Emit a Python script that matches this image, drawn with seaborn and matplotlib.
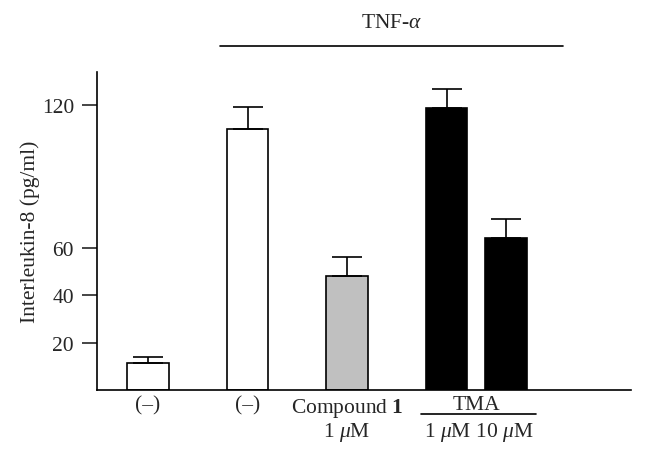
import matplotlib
matplotlib.use("Agg")
import matplotlib.pyplot as plt
import seaborn as sns
import pandas as pd
import numpy as np

# ---- data ----
groups = ["ctrl", "TNF", "Compound 1", "TMA 1", "TMA 10"]
il8_mean = [11.4, 109.9, 48.0, 118.7, 64.0]
il8_err = [2.5, 9.3, 8.0, 8.0, 8.0]
tick_labels = ["(\u2013)", "(\u2013)", "Compound $\\mathbf{1}$\n1 $\\mu$M", "", ""]
tma_label = "TMA"
tma_doses = "1 $\\mu$M 10 $\\mu$M"
yticks = [20, 40, 60, 120]

# ---- layout / style ----
positions = [0.0, 1.0, 2.0, 3.0, 3.6]
colors = ["white", "white", "#c0c0c0", "black", "black"]
FS = 15.5

sns.set_theme(style="white")
plt.rcParams["font.family"] = ["Liberation Serif", "DejaVu Serif"]
plt.rcParams["mathtext.fontset"] = "custom"
plt.rcParams["mathtext.rm"] = "Liberation Serif"
plt.rcParams["mathtext.it"] = "Liberation Serif:italic"
plt.rcParams["mathtext.bf"] = "Liberation Serif:bold"

fig = plt.figure(figsize=(6.45, 4.56), dpi=100)
ax = fig.add_axes([97 / 645, 1 - 391 / 456, (631 - 97) / 645, (391 - 73) / 456])

df = pd.DataFrame({"pos": positions, "val": il8_mean, "grp": groups})
sns.barplot(data=df, x="pos", y="val", hue="grp", palette=dict(zip(groups, colors)),
            native_scale=True, width=0.70, edgecolor="black", linewidth=1.2,
            legend=False, ax=ax, dodge=False)

ax.errorbar(positions, il8_mean, yerr=[np.zeros(len(il8_err)), il8_err], fmt="none",
            ecolor="black", elinewidth=1.2, capsize=10.8, capthick=1.2, zorder=5)

ax.set_xlim(-0.513, 4.854)
ax.set_ylim(0, 134)
ax.set_yticks(yticks)
ax.set_yticklabels([str(t) for t in yticks], fontsize=FS)
ax.set_xticks(positions)
ax.set_xticklabels(tick_labels, fontsize=FS, linespacing=1.1, va="top")
ax.tick_params(axis="x", length=0, pad=4)
ax.tick_params(axis="y", length=10.5, width=1.2, direction="out", left=True, pad=6)
ax.set_xlabel("")
ax.set_ylabel("Interleukin-8 (pg/ml)", fontsize=FS, labelpad=1)
for s in ["top", "right"]:
    ax.spines[s].set_visible(False)
for s in ["left", "bottom"]:
    ax.spines[s].set_linewidth(1.2)
    ax.spines[s].set_color("black")

# TNF-alpha bracket
ax.plot([0.230, 0.873], [1.082, 1.082], transform=ax.transAxes, color="black",
        lw=1.2, clip_on=False)
ax.text(0.552, 1.155, "TNF-$\\alpha$", transform=ax.transAxes, ha="center", va="center",
        fontsize=FS)

# TMA label with underline and doses
tma_x = (positions[3] + positions[4]) / 2
xt = ax.get_xaxis_transform()
ax.text(tma_x, -0.045, tma_label, transform=xt, ha="center", va="center", fontsize=FS)
ax.plot([positions[3] - 0.26, positions[4] + 0.30], [-0.076, -0.076],
        transform=xt, color="black", lw=1.2, clip_on=False)
ax.text(tma_x + 0.02, -0.129, tma_doses, transform=xt, ha="center", va="center",
        fontsize=FS)

fig.savefig("out.png", dpi=100)
